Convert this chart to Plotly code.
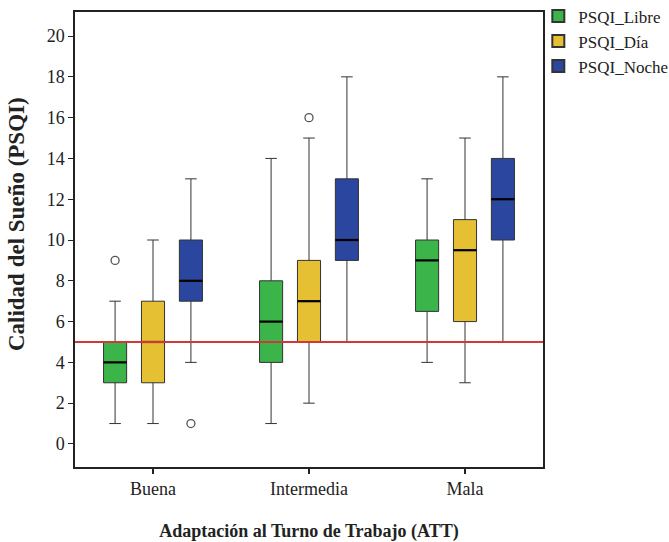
import plotly.graph_objects as go

categories = ["Buena", "Intermedia", "Mala"]
series = ["PSQI_Libre", "PSQI_Día", "PSQI_Noche"]
colors = ["#3bb54a", "#e5c033", "#2a469e"]

# per series: values for Buena, Intermedia, Mala
lower = {"PSQI_Libre": [1, 1, 4], "PSQI_Día": [1, 2, 3], "PSQI_Noche": [4, 5, 5]}
q1 = {"PSQI_Libre": [3, 4, 6.5], "PSQI_Día": [3, 5, 6], "PSQI_Noche": [7, 9, 10]}
median = {"PSQI_Libre": [4, 6, 9], "PSQI_Día": [5, 7, 9.5], "PSQI_Noche": [8, 10, 12]}
q3 = {"PSQI_Libre": [5, 8, 10], "PSQI_Día": [7, 9, 11], "PSQI_Noche": [10, 13, 14]}
upper = {"PSQI_Libre": [7, 14, 13], "PSQI_Día": [10, 15, 15], "PSQI_Noche": [13, 18, 18]}
# outliers: (category index, value)
outliers = {"PSQI_Libre": [(0, 9)], "PSQI_Día": [(1, 16)], "PSQI_Noche": [(0, 1)]}
cutoff = 5
y_ticks = [0, 2, 4, 6, 8, 10, 12, 14, 16, 18, 20]
x_title = "Adaptación al Turno de Trabajo (ATT)"
y_title = "Calidad del Sueño (PSQI)"

FONT = "'Liberation Serif', 'DejaVu Serif', serif"
offsets = [-0.243, 0.0, 0.243]
bw = 0.148

fig = go.Figure()
for s, col, off in zip(series, colors, offsets):
    xs = [i + off for i in range(len(categories))]
    fig.add_trace(go.Box(
        x=xs, q1=q1[s], median=median[s], q3=q3[s],
        lowerfence=lower[s], upperfence=upper[s],
        width=bw, whiskerwidth=0.5,
        fillcolor=col, line=dict(color="#333333", width=1),
        showlegend=False, hoverinfo="skip", boxpoints=False,
    ))
    # thicker median lines
    mx, my = [], []
    for x, m in zip(xs, median[s]):
        mx += [x - bw / 2, x + bw / 2, None]
        my += [m, m, None]
    fig.add_trace(go.Scatter(x=mx, y=my, mode="lines",
                             line=dict(color="black", width=2.2),
                             showlegend=False, hoverinfo="skip"))
    if outliers[s]:
        fig.add_trace(go.Scatter(
            x=[ci + off for ci, v in outliers[s]],
            y=[v for ci, v in outliers[s]], mode="markers",
            marker=dict(symbol="circle-open", size=8, color="#555555",
                        line=dict(width=1.3)),
            showlegend=False, hoverinfo="skip"))
    # legend entry
    fig.add_trace(go.Scatter(x=[None], y=[None], mode="markers", name=s,
                             marker=dict(symbol="square", size=11, color=col,
                                         line=dict(color="#333333", width=1))))

fig.add_shape(type="line", xref="paper", x0=0, x1=1, yref="y", y0=cutoff, y1=cutoff,
              line=dict(color="#d0393a", width=2))

fig.add_annotation(text="<b>" + y_title + "</b>", textangle=-90,
                   xref="paper", yref="paper", x=-0.126, y=0.534,
                   xanchor="center", yanchor="middle", showarrow=False,
                   font=dict(family=FONT, size=23, color="#222222"))

fig.update_layout(
    width=669, height=542,
    margin=dict(l=75, r=126, t=12, b=75, autoexpand=False),
    paper_bgcolor="white", plot_bgcolor="white",
    font=dict(family=FONT, size=18, color="#222222"),
    legend=dict(x=0.99, y=1.03, xanchor="left", yanchor="top",
                bgcolor="rgba(0,0,0,0)",
                font=dict(family=FONT, size=17), tracegroupgap=0,
                itemsizing="constant"),
    xaxis=dict(range=[-0.5, 2.5], tickmode="array",
               tickvals=list(range(len(categories))), ticktext=categories,
               showgrid=False, zeroline=False, showline=True, mirror=True,
               linecolor="#222222", linewidth=1.5, ticks="outside", ticklen=5,
               tickwidth=2, tickcolor="#222222",
               title=dict(text="<b>" + x_title + "</b>",
                          font=dict(family=FONT, size=18), standoff=27)),
    yaxis=dict(range=[-1.13, 21.18], tickvals=y_ticks,
               showgrid=False, zeroline=False, showline=True, mirror=True,
               linecolor="#222222", linewidth=1.5, ticks="outside", ticklen=5,
               tickcolor="#222222"),
)

fig.write_html("out.html")
